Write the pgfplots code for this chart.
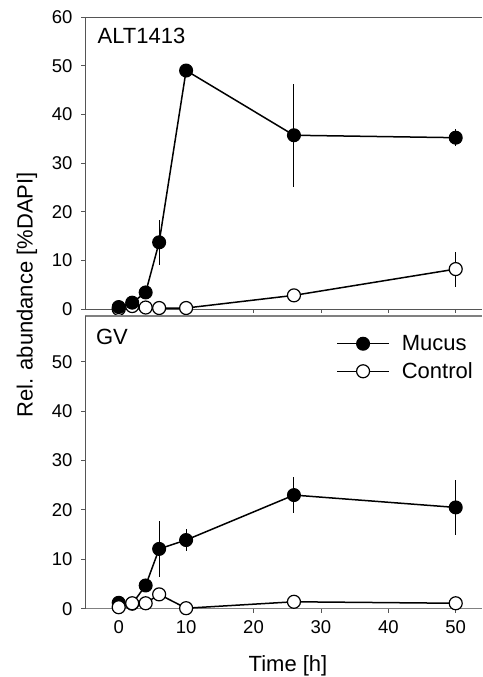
\documentclass[border=0pt]{standalone}
\usepackage{fontspec}
\setmainfont{Liberation Sans}
\usepackage{pgfplots}
\pgfplotsset{compat=1.18}

% Relative abundance over time, mean +/- error
% columns: time, value, error
\pgfplotstableread{
t   y     e
0   0.4   0
2   1.3   0
4   3.4   0
6   13.7  4.6
10  49.0  0
26  35.7  10.6
50  35.2  1.7
}\altMucus
\pgfplotstableread{
t   y     e
0   0.0   0
2   0.6   0
4   0.3   0
6   0.2   0
10  0.2   0
26  2.8   0
50  8.2   3.6
}\altControl
\pgfplotstableread{
t   y     e
0   1.2   0
2   1.0   0
4   4.7   0
6   12.1  5.6
10  13.9  2.3
26  23.0  3.7
50  20.5  5.6
}\gvMucus
\pgfplotstableread{
t   y     e
0   0.3   0
2   1.1   0
4   1.1   0
6   2.9   0
10  0.1   0
26  1.4   0
50  1.1   0
}\gvControl

\definecolor{axisgray}{RGB}{85,85,85}
\definecolor{framegray}{RGB}{128,128,128}

\pgfplotsset{
  panel/.style={
    scale only axis,
    width=397pt,
    xmin=-5, xmax=53.9,
    ymin=0,
    axis x line*=box,
    axis y line*=left,
    xtick={0,10,...,50},
    xtick pos=bottom,
    ytick pos=left,
    tick align=outside,
    major tick length=4pt,
    every tick/.style={axisgray, line width=0.8pt},
    axis line style={axisgray, line width=0.9pt},
    every outer x axis line/.append style={axisgray},
    /pgf/number format/assume math mode=true,
    tick label style={font=\fontsize{18.5}{22}\selectfont},
    yticklabel style={xshift=-5pt},
    xticklabel style={yshift=-4pt},
    clip=false,
  },
  mucus/.style={black, line width=1.5pt, mark=*, mark size=6.5pt,
    mark options={fill=black, draw=black, line width=1pt},
    error bars/.cd, y dir=both, y explicit,
    error bar style={black, line width=1pt}, error mark=none},
  control/.style={black, line width=1.5pt, mark=*, mark size=6.5pt,
    mark options={fill=white, draw=black, line width=1.2pt},
    error bars/.cd, y dir=both, y explicit,
    error bar style={black, line width=1pt}, error mark=none},
}

\begin{document}
\begin{tikzpicture}[x=1pt, y=1pt]
\useasboundingbox (0,0) rectangle (482,677);

% upper panel: ALT1413
\begin{axis}[panel,
  at={(85pt,368pt)}, anchor=south west,
  height=292pt, ymax=60,
  ytick={0,10,...,60},
  xticklabels={},
]
\addplot[control] table[x=t, y=y, y error=e] {\altControl};
\addplot[mucus] table[x=t, y=y, y error=e] {\altMucus};
\node[anchor=base west, font=\fontsize{22}{26}\selectfont]
  at (rel axis cs:0.023,0.91) {ALT1413};
\end{axis}

% lower panel: GV
\begin{axis}[panel,
  at={(85pt,68.3pt)}, anchor=south west,
  height=292.7pt, ymax=59.25,
  ytick={0,10,...,50},
  every outer x axis line/.append style={framegray, line width=1.6pt},
  legend style={at={(0.625,0.948)}, anchor=north west, draw=none, fill=none,
    font=\fontsize{22}{26}\selectfont, row sep=6.5pt,
    /tikz/every odd column/.append style={column sep=10pt}},
  legend cell align=left,
  legend image code/.code={
    \draw[#1, mark repeat=2, mark phase=2] plot coordinates {(0pt,0pt) (26pt,0pt) (52pt,0pt)};
  },
]
\addplot[mucus] table[x=t, y=y, y error=e] {\gvMucus};
\addlegendentry{Mucus}
\addplot[control] table[x=t, y=y, y error=e] {\gvControl};
\addlegendentry{Control}
\node[anchor=base west, font=\fontsize{22}{26}\selectfont]
  at (rel axis cs:0.019,0.901) {GV};
\end{axis}

% shared axis titles
\node[rotate=90, font=\fontsize{22}{26}\selectfont] at (27,382) {Rel. abundance [\%DAPI]};
\node[anchor=base, font=\fontsize{22}{26}\selectfont] at (288,5.3) {Time [h]};
\end{tikzpicture}
\end{document}
